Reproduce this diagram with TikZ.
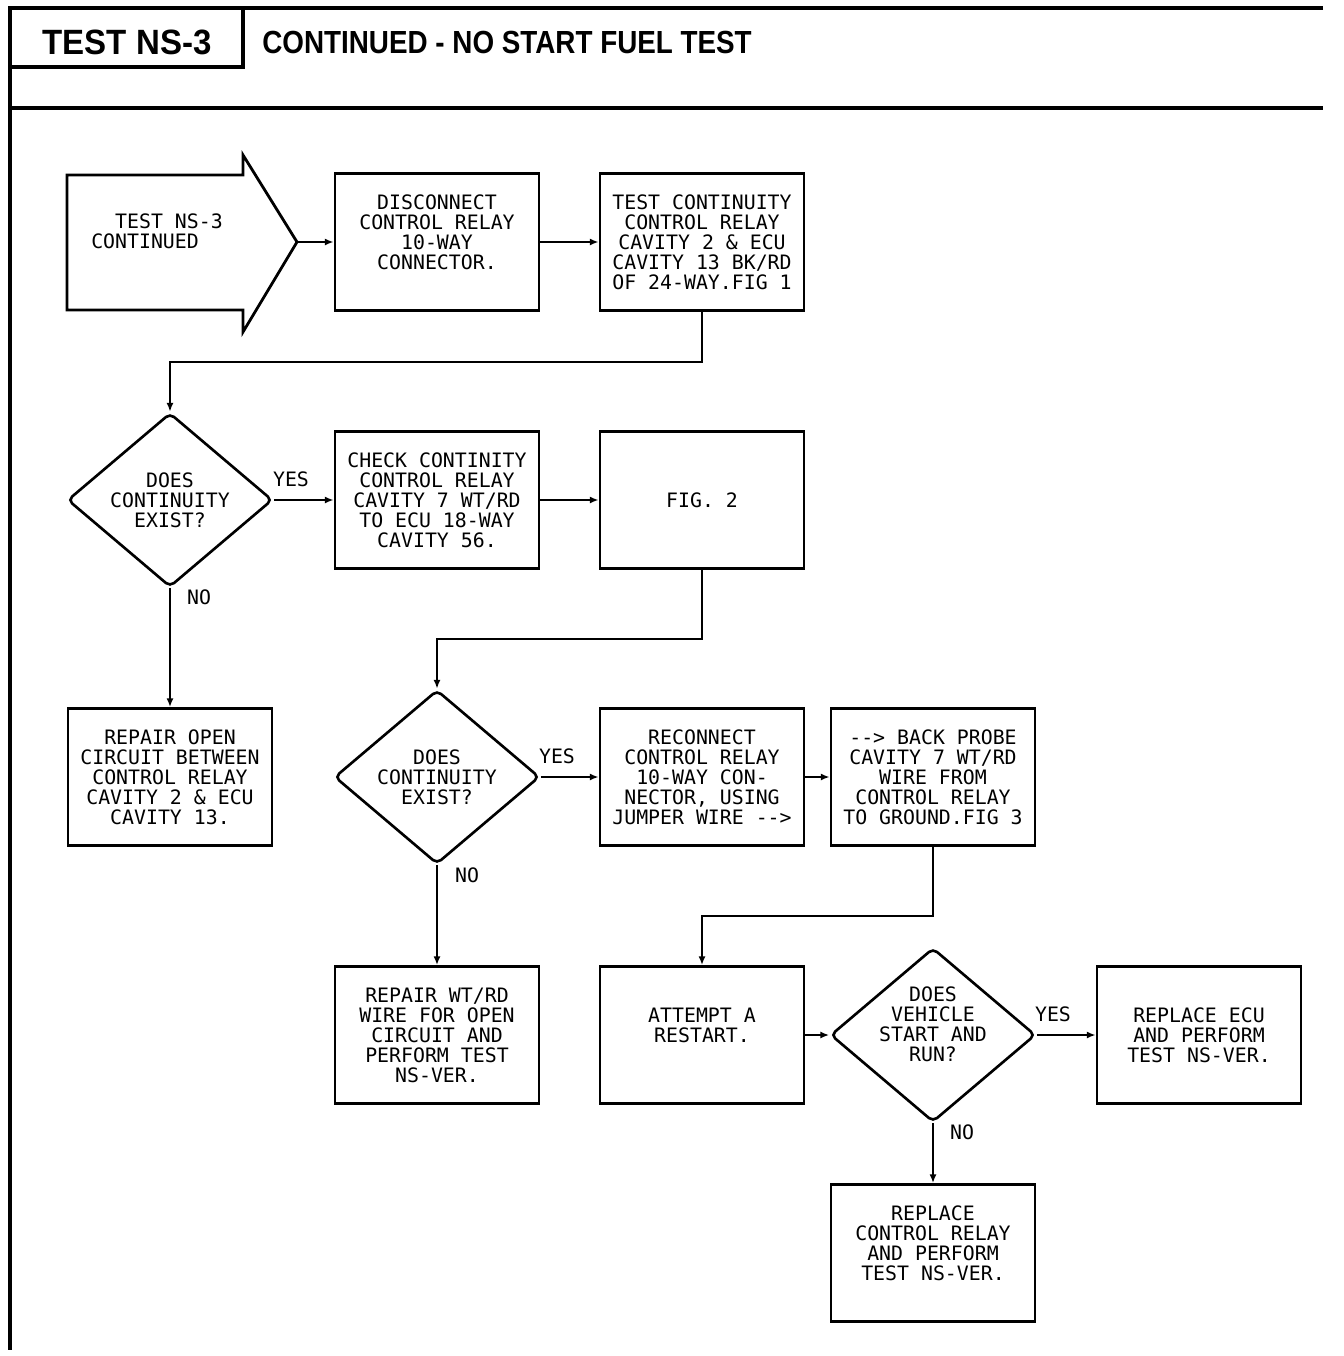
\documentclass[tikz,border=0pt]{standalone}
\usepackage{fontspec}
\usepackage{graphicx}
\usetikzlibrary{shapes.geometric,arrows.meta}
\newfontfamily\plotfont{DejaVu Sans Mono}
\newfontfamily\headfont{Liberation Sans}
\newcommand\plotsize{\fontsize{11.3pt}{11.38pt}\selectfont}
\newcommand\arrowtxt{\mbox{-}\mbox{-}>}

\tikzset{
  stepbox/.style={draw, line width=1.6pt, minimum width=4.08cm,
    minimum height=2.74cm, inner sep=0pt, align=center,
    font=\plotfont\plotsize},
  query/.style={draw, diamond, aspect=1.18, line width=1.5pt,
    rounded corners=3pt, minimum width=4.1cm, minimum height=3.48cm,
    inner sep=0pt, align=center, font=\plotfont\plotsize},
  flow/.style={-{Latex[length=5pt,width=4pt]}, line width=1.1pt},
  answer/.style={font=\plotfont\plotsize, inner sep=0pt},
  frameline/.style={line width=1.8pt}
}

\begin{document}
\begin{tikzpicture}[x=0.02cm, y=-0.02cm]
\useasboundingbox (0,0) rectangle (1344,1356);

% Cadre
\draw[frameline] (1323,8) -- (10,8) -- (10,1350);
\draw[frameline] (10,108) -- (1323,108);
\draw[frameline] (10,67) -- (243,67) -- (243,8);

% Titre
\node (ntest) at (127,42)
{\scalebox{0.94}[1]{\headfont\fontsize{20pt}{20pt}\selectfont\bfseries TEST NS-3}};

\node[anchor=west, inner sep=0pt] (ntitle) at (262,42)
{\scalebox{0.87}[1]{\headfont\fontsize{18.2pt}{18pt}\selectfont\bfseries CONTINUED - NO START FUEL TEST}};

% Fleche de depart
\draw[line width=1.6pt]
(67,175) -- (243,175) -- (243,155)
-- (297,242)
-- (243,332) -- (243,310) -- (67,310) -- cycle;

\coordinate (tip) at (297,242);

\node[answer, align=left] (start) at (157,231)
{\ \ TEST NS-3\\CONTINUED};

% Etapes
\node[stepbox] (b1) at (437,242)
{DISCONNECT\\CONTROL RELAY\\10-WAY\\CONNECTOR.\\~};

\node[stepbox] (b2) at (702,242)
{TEST CONTINUITY\\CONTROL RELAY\\CAVITY 2 \& ECU\\CAVITY 13 BK/RD\\OF 24-WAY.FIG 1};

\node[query] (d1) at (170,500)
{DOES\\CONTINUITY\\EXIST?};

\node[stepbox] (b3) at (437,500)
{CHECK CONTINITY\\CONTROL RELAY\\CAVITY 7 WT/RD\\TO ECU 18-WAY\\CAVITY 56.};

\node[stepbox] (b4) at (702,500)
{FIG. 2};

\node[stepbox] (b5) at (170,777)
{REPAIR OPEN\\CIRCUIT BETWEEN\\CONTROL RELAY\\CAVITY 2 \& ECU\\CAVITY 13.};

\node[query] (d2) at (437,777)
{DOES\\CONTINUITY\\EXIST?};

\node[stepbox] (b6) at (702,777)
{RECONNECT\\CONTROL RELAY\\10-WAY CON-\\NECTOR, USING\\JUMPER WIRE \arrowtxt};

\node[stepbox] (b7) at (933,777)
{\arrowtxt{} BACK PROBE\\CAVITY 7 WT/RD\\WIRE FROM\\CONTROL RELAY\\TO GROUND.FIG 3};

\node[stepbox] (b8) at (437,1035)
{REPAIR WT/RD\\WIRE FOR OPEN\\CIRCUIT AND\\PERFORM TEST\\NS-VER.};

\node[stepbox] (b9) at (702,1035)
{ATTEMPT A\\RESTART.\\~};

\node[query] (d3) at (933,1035) {};

\node[answer, align=center] (d3text) at (933,1024)
{DOES\\VEHICLE\\START AND\\RUN?};

\node[stepbox] (b10) at (1199,1035)
{REPLACE ECU\\AND PERFORM\\TEST NS-VER.};

\node[stepbox] (b11) at (933,1253)
{REPLACE\\CONTROL RELAY\\AND PERFORM\\TEST NS-VER.\\~};

% Liaisons
\draw[flow] (tip) -- (b1.west);
\draw[flow] (b1.east) -- (b2.west);
\draw[flow] (b2.south) -- ++(0,50) -| (d1.north);

\draw[flow] (d1.east) -- (b3.west);
\draw[flow] (d1.south) -- (b5.north);
\draw[flow] (b3.east) -- (b4.west);
\draw[flow] (b4.south) -- ++(0,69) -| (d2.north);

\draw[flow] (d2.east) -- (b6.west);
\draw[flow] (d2.south) -- (b8.north);
\draw[flow] (b6.east) -- (b7.west);
\draw[flow] (b7.south) -- ++(0,69) -| (b9.north);

\draw[flow] (b9.east) -- (d3.west);
\draw[flow] (d3.east) -- (b10.west);
\draw[flow] (d3.south) -- (b11.north);

% Reponses
\node[answer] (yes1) at (291,479) {YES};
\node[answer] (no1) at (199,597) {NO};
\node[answer] (yes2) at (557,756) {YES};
\node[answer] (no2) at (467,875) {NO};
\node[answer] (yes3) at (1053,1014) {YES};
\node[answer] (no3) at (962,1132) {NO};

\end{tikzpicture}
\end{document}
